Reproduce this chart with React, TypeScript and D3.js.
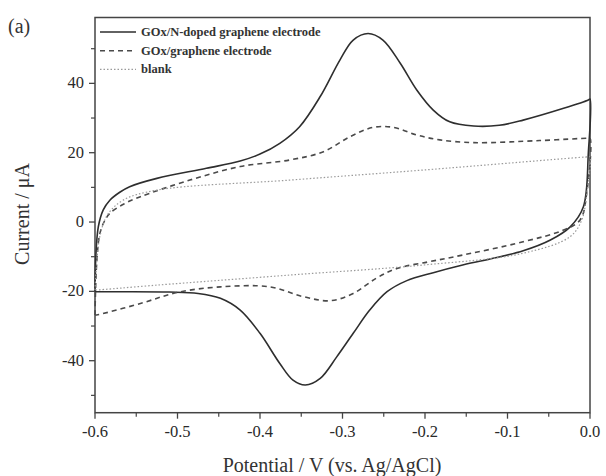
import React from 'react';
import { scaleLinear, line as d3line, curveCatmullRom, range } from 'd3';

// cyclic voltammograms, potential (V vs Ag/AgCl) and current (uA)
const nDopedV = [-0.600, -0.599, -0.596, -0.590, -0.582, -0.570, -0.558, -0.525, -0.465, -0.424, -0.400, -0.376, -0.352, -0.327, -0.303, -0.287, -0.269, -0.251, -0.230, -0.210, -0.190, -0.170, -0.141, -0.110, -0.081, -0.032, -0.002, 0.000, -0.002, -0.008, -0.024, -0.048, -0.081, -0.120, -0.158, -0.190, -0.222, -0.246, -0.267, -0.287, -0.307, -0.327, -0.345, -0.360, -0.376, -0.400, -0.424, -0.448, -0.475, -0.510, -0.566, -0.598, -0.600];
const nDopedI = [-20.1, -10, -1.4, 3.5, 6.3, 8.6, 10.2, 12.6, 15.5, 17.6, 19.6, 22.7, 27.5, 36.2, 46.8, 52.5, 54.4, 52.5, 45.8, 38.1, 32.3, 28.9, 27.7, 27.9, 29.4, 32.8, 35.2, 35.5, 20, 4.4, -1.4, -5.2, -8.3, -10.6, -12.6, -14.6, -16.9, -20.1, -25.4, -32.1, -38.9, -45.1, -47, -45.6, -40.8, -32.1, -25.4, -22, -20.6, -20.2, -20.1, -20.1, -20.1];

const grapheneV = [-0.600, -0.598, -0.594, -0.588, -0.582, -0.565, -0.545, -0.485, -0.424, -0.364, -0.323, -0.291, -0.263, -0.238, -0.210, -0.182, -0.141, -0.061, -0.002, 0.000, -0.004, -0.012, -0.032, -0.081, -0.164, -0.196, -0.234, -0.259, -0.287, -0.315, -0.348, -0.388, -0.448, -0.500, -0.545, -0.598, -0.600];
const grapheneI = [-26.8, -12, -3.2, 0.5, 2.5, 5.2, 7.3, 12.1, 16, 17.9, 20.3, 24.6, 27.3, 27.3, 25.1, 23.7, 22.9, 23.5, 24.2, 24.2, 8.3, 0.6, -2.3, -5.7, -10, -11.5, -13.4, -16.2, -20.6, -22.7, -21.5, -18.7, -18.7, -20.3, -23.5, -26.8, -26.8];

const blankV = [-0.600, -0.598, -0.594, -0.585, -0.566, -0.525, -0.364, -0.202, -0.002, 0.000, -0.004, -0.010, -0.024, -0.081, -0.202, -0.364, -0.525, -0.598, -0.600];
const blankI = [-19.6, -12, -4, 2, 6.3, 9.2, 12.1, 15, 18.8, 18.8, 8, 0.6, -4.2, -9, -12.4, -15.3, -18.2, -19.6, -19.6];

const xTicks = [-0.6, -0.5, -0.4, -0.3, -0.2, -0.1, 0.0];
const yTicks = [-40, -20, 0, 20, 40];

const series = [
    { name: 'GOx/N-doped graphene electrode', v: nDopedV, i: nDopedI, stroke: '#2e2e2e', width: 1.6, dash: null },
    { name: 'GOx/graphene electrode', v: grapheneV, i: grapheneI, stroke: '#4a4a4a', width: 1.6, dash: '5,4' },
    { name: 'blank', v: blankV, i: blankI, stroke: '#9a9a9a', width: 1.2, dash: '1.5,2' }
];

const W = 606, H = 476;
const left = 95, right = 590, top = 17.5, bottom = 412.7;

export default function App() {
    const x = scaleLinear().domain([-0.6, 0]).range([left, right]);
    const y = scaleLinear().domain([-55, 59]).range([bottom, top]);

    const path = (v, i) => d3line()
        .x(d => x(d[0]))
        .y(d => y(d[1]))
        .curve(curveCatmullRom.alpha(0.5))(v.map((p, k) => [p, i[k]]));

    const xMinor = range(-0.55, 0, 0.1);
    const yMinor = range(-50, 60, 20);
    const axisColor = '#444';
    const font = '"Liberation Serif", "DejaVu Serif", serif';

    return (
        <svg width={W} height={H} style={{ position: 'absolute', left: 0, top: 0, background: '#fff' }} fontFamily={font}>
            <rect x={left} y={top} width={right - left} height={bottom - top} fill="none" stroke={axisColor} strokeWidth={1.5} />

            {series.map(s => (
                <path key={s.name} d={path(s.v, s.i)} fill="none" stroke={s.stroke}
                    strokeWidth={s.width} strokeDasharray={s.dash || undefined} />
            ))}

            {xTicks.map(t => (
                <g key={'x' + t}>
                    <line x1={x(t)} x2={x(t)} y1={bottom} y2={bottom + 6} stroke={axisColor} strokeWidth={1.3} />
                    <text x={x(t)} y={437} textAnchor="middle" fontSize={16.5} fill="#2a2a2a">{t.toFixed(1)}</text>
                </g>
            ))}
            {xMinor.map(t => (
                <line key={'xm' + t} x1={x(t)} x2={x(t)} y1={bottom} y2={bottom + 4} stroke={axisColor} strokeWidth={1.2} />
            ))}

            {yTicks.map(t => (
                <g key={'y' + t}>
                    <line x1={left - 6} x2={left} y1={y(t)} y2={y(t)} stroke={axisColor} strokeWidth={1.3} />
                    <text x={84} y={y(t) + 5} textAnchor="end" fontSize={16.5} fill="#2a2a2a">{t}</text>
                </g>
            ))}
            {yMinor.map(t => (
                <line key={'ym' + t} x1={left - 4} x2={left} y1={y(t)} y2={y(t)} stroke={axisColor} strokeWidth={1.2} />
            ))}

            {/* legend */}
            {series.map((s, k) => (
                <g key={'leg' + s.name}>
                    <line x1={100} x2={136} y1={32 + k * 18.7} y2={32 + k * 18.7} stroke={s.stroke}
                        strokeWidth={s.width} strokeDasharray={s.dash || undefined} />
                    <text x={141} y={36 + k * 18.7} fontSize={12.5} fill="#333" fontWeight="bold">{s.name}</text>
                </g>
            ))}

            <text x={8} y={33} fontSize={20} fill="#333">(a)</text>
            <text x={332} y={472} textAnchor="middle" fontSize={20} fill="#333">Potential / V (vs. Ag/AgCl)</text>
            <text transform="translate(29,214) rotate(-90)" textAnchor="middle" fontSize={20} fill="#333">Current / μA</text>
        </svg>
    );
}
